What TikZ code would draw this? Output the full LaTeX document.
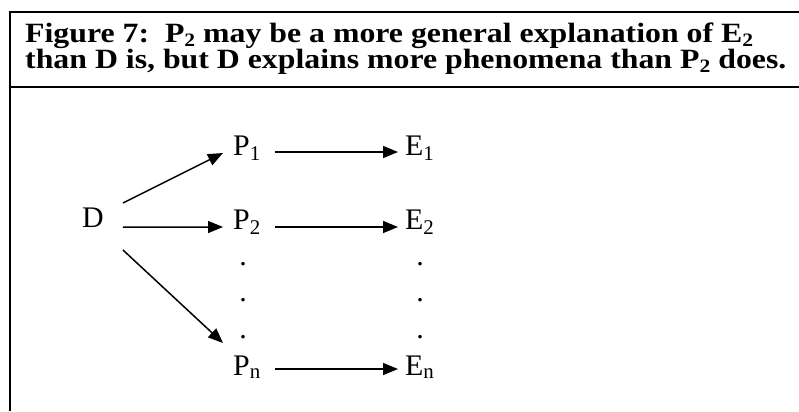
\documentclass[tikz,border=0pt]{standalone}
\usepackage{fontspec}
\setmainfont{Liberation Serif}
\newfontfamily\ttlfont[FakeStretch=1.14]{Liberation Serif}
\newcommand\ttlsub[1]{\raisebox{-4bp}{\fontsize{19}{19}\selectfont #1}}
\usetikzlibrary{arrows.meta}
\tikzset{
  lbl/.style={font=\fontsize{30}{36}\selectfont, inner sep=0pt, anchor=base west},
  ttl/.style={font=\ttlfont\fontsize{28}{26}\selectfont\bfseries, inner sep=0pt, anchor=base west, align=left},
  dotmark/.style={font=\fontsize{30}{36}\selectfont, inner sep=0pt, anchor=base},
  arr/.style={line width=1.5bp, -{Triangle[length=15bp,width=12bp]}}
}
\begin{document}
\begin{tikzpicture}[x=1bp,y=-1bp]
\useasboundingbox (0,0) rectangle (799,411);
\draw[line width=2bp] (799,12) -- (10,12) -- (10,411) (10,87) -- (799,87);
\node[ttl] (title) at (25,68) {Figure 7:\ \ P\ttlsub{2} may be a more general explanation of E\ttlsub{2}\\than D is, but D explains more phenomena than P\ttlsub{2} does.};
\node[lbl] (D) at (82,227) {D};
\foreach \n/\y/\h in {1/155/3, 2/229/2, n/375/6} {
  \node[lbl] (P\n) at (233,\y) {P\textsubscript{\n}};
  \node[lbl] (E\n) at (405,\y) {E\textsubscript{\n}};
  \draw[arr] ([xshift=14bp,yshift=\h bp]P\n.base east) -- ([xshift=-7bp,yshift=\h bp]E\n.base west);
}
\foreach \y in {265,301,338} {
  \node[dotmark] (pd\y) at (243,\y) {.};
  \node[dotmark] (ed\y) at (420,\y) {.};
}
\draw[arr] ([xshift=19bp,yshift=24bp]D.base east) -- ([xshift=-10bp,yshift=2bp]P1.base west);
\draw[arr] ([xshift=19bp]D.base east) -- ([xshift=-10bp,yshift=2bp]P2.base west);
\draw[arr] ([xshift=19bp,yshift=-23bp]D.base east) -- ([xshift=-10bp,yshift=32bp]Pn.base west);
\end{tikzpicture}
\end{document}
